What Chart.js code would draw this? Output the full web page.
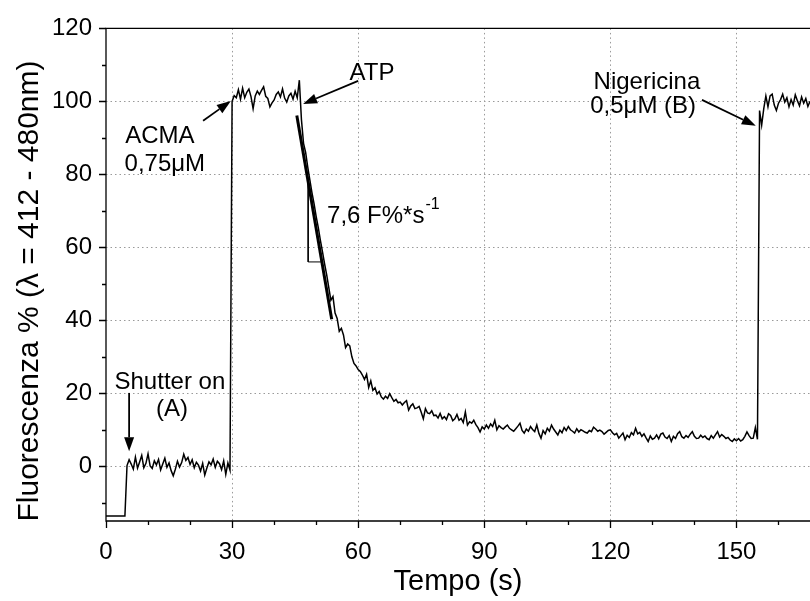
<!DOCTYPE html>
<html>
<head>
<meta charset="utf-8">
<script src="https://cdn.jsdelivr.net/npm/chart.js@4.4.1/dist/chart.umd.min.js"></script>
<style>
  body { margin: 0; background: #fff; }
  canvas { display: block; }
</style>
</head>
<body>
<canvas id="fluoChart" width="810" height="601"></canvas>
<script>
// trace, one value every 0.5 s starting at t = 0
const sampleStep = 0.5
const fluorescence = [
  -13.6, -13.6, -13.6, -13.6, -13.6, -13.6, -13.6, -13.6, -13.6, -13.6, 0.2, 1.8, 0.6, -0.8, 2.5, -0.5, 1.2, 3.0, -0.4, 0.8,
  3.4, 0.1, -0.6, 1.5, 0.4, 1.9, -1.0, 0.6, 2.2, -0.3, 0.9, -1.2, -2.6, -0.8, 1.4, -0.2, 1.0, 3.3, 1.6, 2.4,
  0.5, 1.8, -0.4, 1.1, 0.3, -1.3, 0.8, -2.4, -0.5, 1.2, 0.4, 2.0, -0.3, 1.4, 0.7, -0.9, 1.5, -2.2, 0.9, -1.0,
  100.0, 101.6, 101.0, 103.2, 100.6, 103.6, 101.0, 102.5, 103.4, 101.3, 98.0, 101.5, 102.8, 101.9, 103.0, 104.0, 101.4, 100.8, 98.5, 99.6,
  100.4, 101.9, 102.6, 101.2, 103.4, 100.9, 99.8, 101.5, 102.2, 100.6, 102.8, 101.0, 105.8, 95.0, 88.5, 86.0, 82.0, 78.5, 75.0, 72.0,
  68.5, 65.5, 62.0, 58.8, 55.5, 52.5, 49.0, 45.5, 46.5, 42.0, 40.5, 37.0, 37.8, 36.0, 32.5, 33.5, 33.0, 30.0, 28.2, 27.5,
  26.5, 26.0, 25.0, 23.8, 25.2, 21.6, 23.4, 20.8, 21.5, 19.8, 20.5, 19.0, 18.4, 19.2, 18.6, 19.9, 18.8, 17.8, 18.3, 17.4,
  17.6, 16.8, 17.5, 18.0, 15.4, 16.5, 17.1, 15.8, 16.0, 16.4, 14.8, 13.0, 15.8, 14.6, 14.4, 15.2, 13.9, 14.0, 13.2, 14.5,
  13.0, 13.6, 12.8, 14.4, 13.9, 12.5, 13.0, 14.2, 12.6, 13.1, 12.0, 14.9, 11.3, 12.2, 11.8, 12.6, 11.4, 10.6, 9.4, 10.8,
  10.2, 11.3, 10.4, 11.6, 10.9, 12.6, 10.0, 11.1, 10.6, 10.2, 10.8, 11.3, 10.4, 10.0, 9.6, 10.3, 11.0, 11.8, 9.8, 9.1,
  10.2, 9.6, 10.9, 10.1, 9.5, 11.3, 9.0, 7.7, 9.8, 8.9, 10.4, 9.6, 11.3, 10.2, 9.4, 8.6, 9.9, 9.2, 10.6, 9.8,
  10.9, 10.0, 9.6, 9.1, 10.3, 9.4, 10.0, 9.7, 9.3, 9.1, 9.8, 9.5, 10.7, 10.2, 9.6, 9.9, 9.5, 8.8, 9.3, 9.8,
  10.0, 9.2, 8.6, 9.0, 7.7, 8.4, 9.1, 7.3, 8.5, 7.9, 9.2, 8.6, 10.4, 8.9, 9.3, 8.2, 8.9, 7.8, 6.8, 8.3,
  7.4, 7.7, 8.6, 7.5, 8.8, 9.1, 8.0, 7.6, 8.4, 6.8, 8.2, 7.6, 8.9, 9.5, 8.1, 7.7, 8.4, 7.9, 8.8, 9.5,
  8.2, 7.6, 7.7, 8.5, 7.9, 8.3, 7.6, 7.3, 8.4, 7.7, 8.6, 9.5, 8.0, 8.7, 8.2, 7.6, 7.9, 7.2, 6.8, 7.5,
  7.0, 7.6, 6.9, 7.3, 8.2, 9.4, 8.4, 7.6, 7.7, 10.6, 7.4, 97.5, 93.5, 98.0, 101.5, 98.5, 101.5, 102.0, 99.0, 97.5,
  99.5, 100.5, 102.0, 99.8, 101.0, 98.5, 100.5, 99.0, 101.8, 100.2, 98.8, 101.2, 99.5, 100.8, 98.6, 100.0
]

const xLabelEvery = 30
const yLabelEvery = 20

// linear fit of the ATP drop and its slope triangle  [t, F%]
const slopeFit = [[45.4, 96.1], [53.7, 40.3]]
const slopeTriangle = [[48.1, 79], [48.1, 56], [51.6, 56]]

const notes = [
  { text: 'Shutter on', t: 15.2, f: 23.1 },
  { text: '(A)', t: 15.7, f: 15.5 },
  { text: 'ACMA', t: 12.8, f: 90.3 },
  { text: '0,75\u03BCM', t: 14.0, f: 82.7 },
  { text: 'ATP', t: 63.3, f: 107.8 },
  { text: 'Nigericina', t: 128.7, f: 105.3 },
  { text: '0,5\u03BCM (B)', t: 127.8, f: 98.5 }
]
const slopeNote = { text: '7,6 F%*s', sup: '-1', t: 52.6, f: 68.6 }

const arrows = [
  { from: [5.5, 20.1], to: [5.5, 4.1] },
  { from: [23.1, 94.7], to: [29.7, 100.1] },
  { from: [60.0, 105.6], to: [46.9, 99.3] },
  { from: [141.8, 100.4], to: [154.6, 93.3] }
]

const FONT = '"Liberation Sans", Arial, sans-serif'

const toPoints = pairs => pairs.map(p => ({ x: p[0], y: p[1] }))

const drawArrow = (ctx, x1, y1, x2, y2) => {
  const ang = Math.atan2(y2 - y1, x2 - x1)
  const len = 14, half = 5
  const bx = x2 - len * Math.cos(ang), by = y2 - len * Math.sin(ang)
  ctx.beginPath()
  ctx.moveTo(x1, y1)
  ctx.lineTo(bx, by)
  ctx.stroke()
  ctx.beginPath()
  ctx.moveTo(x2, y2)
  ctx.lineTo(bx + half * Math.sin(ang), by - half * Math.cos(ang))
  ctx.lineTo(bx - half * Math.sin(ang), by + half * Math.cos(ang))
  ctx.closePath()
  ctx.fill()
}

const decorations = {
  id: 'decorations',
  afterDatasetsDraw(chart) {
    const { ctx, chartArea: a, scales: { x, y } } = chart
    ctx.save()
    ctx.strokeStyle = '#000'
    ctx.fillStyle = '#000'
    ctx.lineWidth = 1.3

    // frame (left, bottom, top)
    ctx.beginPath()
    ctx.moveTo(a.right, a.top); ctx.lineTo(a.left, a.top)
    ctx.lineTo(a.left, a.bottom); ctx.lineTo(a.right, a.bottom)
    ctx.stroke()

    // major / minor tick marks, outward
    ctx.beginPath()
    for (let v = 0; v <= x.max; v += 10) {
      const px = Math.round(x.getPixelForValue(v)) + 0.5
      const len = v % xLabelEvery === 0 ? 7 : 4
      ctx.moveTo(px, a.bottom); ctx.lineTo(px, a.bottom + len)
    }
    for (let v = -10; v <= y.max; v += 10) {
      const py = Math.round(y.getPixelForValue(v)) + 0.5
      const len = v % yLabelEvery === 0 ? 7 : 4
      ctx.moveTo(a.left, py); ctx.lineTo(a.left - len, py)
    }
    ctx.stroke()

    // arrows
    ctx.lineWidth = 1.8
    arrows.forEach(ar => {
      drawArrow(ctx,
        x.getPixelForValue(ar.from[0]), y.getPixelForValue(ar.from[1]),
        x.getPixelForValue(ar.to[0]), y.getPixelForValue(ar.to[1]))
    })

    // annotations
    ctx.font = '24px ' + FONT
    ctx.textAlign = 'center'
    ctx.textBaseline = 'middle'
    notes.forEach(n => ctx.fillText(n.text, x.getPixelForValue(n.t), y.getPixelForValue(n.f)))

    ctx.textAlign = 'left'
    const sx = x.getPixelForValue(slopeNote.t), sy = y.getPixelForValue(slopeNote.f)
    ctx.fillText(slopeNote.text, sx, sy)
    const w = ctx.measureText(slopeNote.text).width
    ctx.font = '16px ' + FONT
    ctx.fillText(slopeNote.sup, sx + w + 1, sy - 11)

    // axis titles
    ctx.font = '29px ' + FONT
    ctx.textAlign = 'center'
    ctx.fillText('Tempo (s)', (a.left + a.right) / 2, 582)
    ctx.font = '30px ' + FONT
    ctx.translate(30, 291)
    ctx.rotate(-Math.PI / 2)
    ctx.fillText('Fluorescenza % (\u03BB = 412 - 480nm)', 0, 0)
    ctx.restore()
  }
}

const gridColor = (every, lo, hi) => c => {
  const v = c.tick ? c.tick.value : NaN
  return (v % every === 0 && v > lo && v < hi) ? '#9a9a9a' : 'rgba(0,0,0,0)'
}

const config = {
  type: 'line',
  data: {
    datasets: [
      {
        label: 'Fluorescenza',
        data: fluorescence.map((v, i) => ({ x: i * sampleStep, y: v })),
        borderColor: '#000',
        borderWidth: 1.5,
        pointRadius: 0,
        tension: 0
      },
      {
        label: 'fit',
        data: toPoints(slopeFit),
        borderColor: '#000',
        borderWidth: 3,
        pointRadius: 0
      },
      {
        label: 'slope',
        data: toPoints(slopeTriangle),
        borderColor: '#000',
        borderWidth: 1,
        pointRadius: 0
      }
    ]
  },
  options: {
    responsive: false,
    animation: false,
    devicePixelRatio: 1,
    layout: { padding: { top: 25, left: 0, right: 0, bottom: 0 } },
    plugins: { legend: { display: false }, tooltip: { enabled: false } },
    scales: {
      x: {
        type: 'linear',
        min: 0,
        max: 167.5,
        afterFit: s => { s.height = 80 },
        ticks: {
          stepSize: 10,
          includeBounds: false,
          autoSkip: false,
          maxRotation: 0,
          padding: 17,
          color: '#000',
          font: { family: FONT, size: 24 },
          callback: v => v % xLabelEvery === 0 ? v : ''
        },
        grid: { color: gridColor(xLabelEvery, 0, 167.5), drawTicks: false, lineWidth: 1 },
        border: { display: false, dash: [1.5, 3] }
      },
      y: {
        min: -15,
        max: 120,
        afterFit: s => { s.width = 106 },
        ticks: {
          stepSize: 10,
          includeBounds: false,
          padding: 14,
          color: '#000',
          font: { family: FONT, size: 24 },
          callback: v => (v % yLabelEvery === 0 && v >= 0) ? v : ''
        },
        grid: { color: gridColor(yLabelEvery, -1, 120), drawTicks: false, lineWidth: 1 },
        border: { display: false, dash: [1.5, 3] }
      }
    }
  },
  plugins: [decorations]
}

let fluoChart = new Chart(document.getElementById('fluoChart'), config)
</script>
</body>
</html>
